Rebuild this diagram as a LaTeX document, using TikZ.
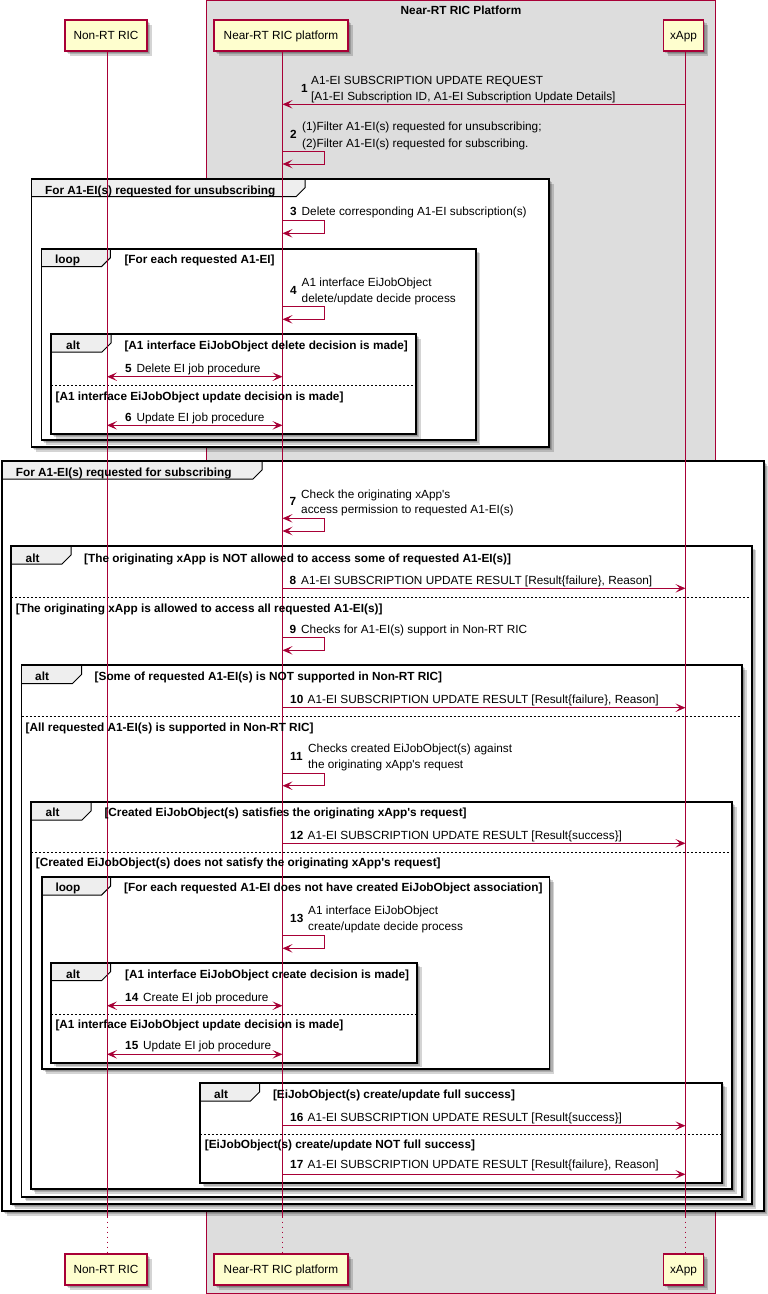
\documentclass[tikz,border=0pt]{standalone}
\usepackage{fontspec}
\setmainfont{Liberation Sans}
\usetikzlibrary{arrows.meta,calc}
\definecolor{crim}{HTML}{A80036}
\definecolor{partfill}{HTML}{FEFECE}
\definecolor{grpfill}{HTML}{DDDDDD}
\definecolor{tabfill}{HTML}{EEEEEE}
\newcommand\fsz{\fontsize{11.8}{14}\selectfont}
\newcommand\apo{\textquotesingle}
\tikzset{
  softshadow/.style={
    preaction={fill=black,opacity=.17,transform canvas={shift={(1.5pt,-1.5pt)}}},
    preaction={fill=black,opacity=.17,transform canvas={shift={(3pt,-3pt)}}},
    preaction={fill=black,opacity=.17,transform canvas={shift={(4.5pt,-4.5pt)}}}},
  part/.style={draw=crim, fill=partfill, line width=1.1pt, minimum width=#1,
    minimum height=31pt, inner sep=0pt, font=\fsz, text height=8.5pt, text depth=0pt, softshadow},
  life/.style={draw=crim, line width=0.8pt},
  lifedot/.style={draw=crim, line width=0.8pt, dash pattern=on 1pt off 4pt},
  tip/.tip={Stealth[length=10pt,width=8.5pt,inset=4.5pt]},
  msg/.style={draw=crim, line width=1pt, -tip},
  bimsg/.style={draw=crim, line width=1pt, tip-tip},
  framebg/.style={fill=white, softshadow},
  frameline/.style={draw=black, line width=1.8pt},
  tabline/.style={draw=black, line width=1pt},
  sepline/.style={draw=black, line width=0.7pt, dash pattern=on 2pt off 2pt},
  msgtxt/.style={font=\fsz, inner sep=0pt, anchor=base west},
  numtxt/.style={font=\fsz\bfseries, inner sep=0pt, anchor=base west},
  btxt/.style={font=\fsz\bfseries, inner sep=0pt, anchor=base west},
}
% frame: left, top, right, bottom, tab right, tab bottom
\newcommand\fr[6]{%
  \path[framebg] (#1,#2) rectangle (#3,#4);
  \fill[tabfill] (#1,#2) -- (#5,#2) -- (#5,#6-9) -- (#5-9,#6) -- (#1,#6) -- cycle;
  \draw[tabline] (#5,#2) -- (#5,#6-9) -- (#5-9,#6) -- (#1,#6);
  \draw[frameline] (#1,#2) rectangle (#3,#4);
}
\newcommand\sep[3]{\draw[sepline] (#1,#3) -- (#2,#3);}
% text: name, x, y(center), text
\newcommand\tx[4]{\node[msgtxt] (#1) at (#2,#3+4.3) {#4};}
\newcommand\bx[4]{\node[btxt] (#1) at (#2,#3+4.3) {#4};}
% number: id, x, y
\newcommand\nm[3]{\node[numtxt] (n#1) at (#2,#3+4.3) {#1};}
\begin{document}
\begin{tikzpicture}[x=1pt,y=-1pt]
\useasboundingbox (0,0) rectangle (768,1294);
% platform group
\draw[draw=crim, fill=grpfill, line width=1pt] (206,0.5) rectangle (715.5,1293.3);
\node[btxt, anchor=base] (plat) at (461,14.3) {Near-RT RIC Platform};
% participants
\node[part=82] (pA) at (106,35.5) {Non-RT RIC};
\node[part=134] (pB) at (281,35.5) {Near-RT RIC platform};
\node[part=40] (pC) at (683.5,35.5) {xApp};
\node[part=82] (pAb) at (106,1269.5) {Non-RT RIC};
\node[part=134] (pBb) at (281,1269.5) {Near-RT RIC platform};
\node[part=40] (pCb) at (683.5,1269.5) {xApp};
\coordinate (LA) at (107,0);
\coordinate (LB) at (282.5,0);
\coordinate (LC) at (685.5,0);
% frames
\fr{31.4}{179.3}{549}{447}{305}{196.7}
\fr{41.4}{248.7}{475.7}{440}{110.4}{266.7}
\fr{51}{334}{416}{434}{111}{352}
\fr{2}{461}{764}{1211}{262}{479}
\fr{10.8}{545.7}{751.7}{1204}{71}{564}
\fr{21.5}{665}{742}{1196.7}{81.5}{683.5}
\fr{30.9}{802}{732}{1189.3}{91}{820}
\fr{41.6}{877.3}{549.5}{1069}{110.6}{895}
\fr{51}{962.7}{417.2}{1062.7}{110.5}{980.7}
\fr{199.8}{1082.7}{722.3}{1182.7}{259.5}{1101}
% separators
\sep{51}{416}{385.3}
\sep{10.8}{751.7}{597.3}
\sep{21.5}{742}{716.3}
\sep{30.9}{732}{852}
\sep{51}{417.2}{1014.3}
\sep{199.8}{722.3}{1134.3}
% lifelines
\coordinate (LAd) at (LA |- 0,1216.7);
\coordinate (LBd) at (LB |- 0,1216.7);
\coordinate (LCd) at (LC |- 0,1216.7);
\draw[life] (LA |- pA.south) -- (LAd);
\draw[life] (LB |- pB.south) -- (LBd);
\draw[life] (LC |- pC.south) -- (LCd);
\draw[lifedot] (LAd) -- (LA |- pAb.north);
\draw[lifedot] (LBd) -- (LB |- pBb.north);
\draw[lifedot] (LCd) -- (LC |- pCb.north);
% frame labels
\bx{g1}{45}{190}{For A1-EI(s) requested for unsubscribing}
\bx{k2}{55}{259}{loop}
\bx{c2}{124.3}{259}{[For each requested A1-EI]}
\bx{k3}{66}{345}{alt}
\bx{c3}{124.3}{345}{[A1 interface EiJobObject delete decision is made]}
\bx{e3}{55.4}{395.7}{[A1 interface EiJobObject update decision is made]}
\bx{g4}{15.7}{471.7}{For A1-EI(s) requested for subscribing}
\bx{k5}{25.5}{557.7}{alt}
\bx{c5}{84}{557.7}{[The originating xApp is NOT allowed to access some of requested A1-EI(s)]}
\bx{e5}{15.7}{607.7}{[The originating xApp is allowed to access all requested A1-EI(s)]}
\bx{k6}{35}{676}{alt}
\bx{c6}{94.5}{676}{[Some of requested A1-EI(s) is NOT supported in Non-RT RIC]}
\bx{e6}{25.5}{726.7}{[All requested A1-EI(s) is supported in Non-RT RIC]}
\bx{k7}{45.5}{812.3}{alt}
\bx{c7}{104.3}{812.3}{[Created EiJobObject(s) satisfies the originating xApp\apo s request]}
\bx{e7}{35.7}{861.7}{[Created EiJobObject(s) does not satisfy the originating xApp\apo s request]}
\bx{k8}{55.3}{887.3}{loop}
\bx{c8}{124}{887.3}{[For each requested A1-EI does not have created EiJobObject association]}
\bx{k9}{66}{974.3}{alt}
\bx{c9}{124.9}{974.3}{[A1 interface EiJobObject create decision is made]}
\bx{e9}{55.3}{1024}{[A1 interface EiJobObject update decision is made]}
\bx{k10}{214}{1094}{alt}
\bx{c10}{272.8}{1094}{[EiJobObject(s) create/update full success]}
\bx{e10}{204.7}{1144}{[EiJobObject(s) create/update NOT full success]}
% messages
\draw[msg] (LC |- 0,104.3) -- (LB |- 0,104.3);
\nm{1}{301}{88}
\tx{t1a}{311}{80}{A1-EI SUBSCRIPTION UPDATE REQUEST}
\tx{t1b}{311}{96}{[A1-EI Subscription ID, A1-EI Subscription Update Details]}
\draw[msg] (LB |- 0,151) -- +(41.5,0) |- (LB |- 0,164);
\nm{2}{290}{134.5}
\tx{t2a}{302}{126}{(1)Filter A1-EI(s) requested for unsubscribing;}
\tx{t2b}{302}{143}{(2)Filter A1-EI(s) requested for subscribing.}
\draw[msg] (LB |- 0,220.7) -- +(41.5,0) |- (LB |- 0,233.3);
\nm{3}{290}{210.7}
\tx{t3}{301.5}{210.7}{Delete corresponding A1-EI subscription(s)}
\draw[msg] (LB |- 0,306.3) -- +(41.5,0) |- (LB |- 0,319.3);
\nm{4}{290}{289.7}
\tx{t4a}{301.5}{281.7}{A1 interface EiJobObject}
\tx{t4b}{301.5}{297.7}{delete/update decide process}
\draw[bimsg] (LA |- 0,376.7) -- (LB |- 0,376.7);
\nm{5}{125}{367.7}
\tx{t5}{136.4}{367.7}{Delete EI job procedure}
\draw[bimsg] (LA |- 0,425.3) -- (LB |- 0,425.3);
\nm{6}{125}{416.7}
\tx{t6}{136.4}{416.7}{Update EI job procedure}
\draw[bimsg] (LB |- 0,518.3) -- +(41.5,0) |- (LB |- 0,531);
\nm{7}{289.5}{501.5}
\tx{t7a}{301}{494}{Check the originating xApp\apo s}
\tx{t7b}{301}{509.3}{access permission to requested A1-EI(s)}
\draw[msg] (LB |- 0,588.3) -- (LC |- 0,588.3);
\nm{8}{289.5}{580}
\tx{t8}{301}{580}{A1-EI SUBSCRIPTION UPDATE RESULT [Result\{failure\}, Reason]}
\draw[msg] (LB |- 0,637.7) -- +(41.5,0) |- (LB |- 0,650.3);
\nm{9}{289.5}{628.7}
\tx{t9}{301}{628.7}{Checks for A1-EI(s) support in Non-RT RIC}
\draw[msg] (LB |- 0,707.7) -- (LC |- 0,707.7);
\nm{10}{290}{699}
\tx{t10}{307.5}{699}{A1-EI SUBSCRIPTION UPDATE RESULT [Result\{failure\}, Reason]}
\draw[msg] (LB |- 0,773.7) -- +(41.5,0) |- (LB |- 0,785.7);
\nm{11}{290}{756}
\tx{t11a}{308}{747.7}{Checks created EiJobObject(s) against}
\tx{t11b}{308}{763.7}{the originating xApp\apo s request}
\draw[msg] (LB |- 0,843.3) -- (LC |- 0,843.3);
\nm{12}{290}{834.7}
\tx{t12}{307.5}{834.7}{A1-EI SUBSCRIPTION UPDATE RESULT [Result\{success\}]}
\draw[msg] (LB |- 0,935.3) -- +(41.5,0) |- (LB |- 0,948.3);
\nm{13}{290}{918}
\tx{t13a}{308}{910}{A1 interface EiJobObject}
\tx{t13b}{308}{926.5}{create/update decide process}
\draw[bimsg] (LA |- 0,1005.7) -- (LB |- 0,1005.7);
\nm{14}{125}{996.7}
\tx{t14}{143}{996.7}{Create EI job procedure}
\draw[bimsg] (LA |- 0,1054.3) -- (LB |- 0,1054.3);
\nm{15}{125}{1045}
\tx{t15}{143}{1045}{Update EI job procedure}
\draw[msg] (LB |- 0,1125.7) -- (LC |- 0,1125.7);
\nm{16}{290}{1116.7}
\tx{t16}{307.5}{1116.7}{A1-EI SUBSCRIPTION UPDATE RESULT [Result\{success\}]}
\draw[msg] (LB |- 0,1174.3) -- (LC |- 0,1174.3);
\nm{17}{290}{1164.3}
\tx{t17}{307.5}{1164.3}{A1-EI SUBSCRIPTION UPDATE RESULT [Result\{failure\}, Reason]}
\end{tikzpicture}
\end{document}
